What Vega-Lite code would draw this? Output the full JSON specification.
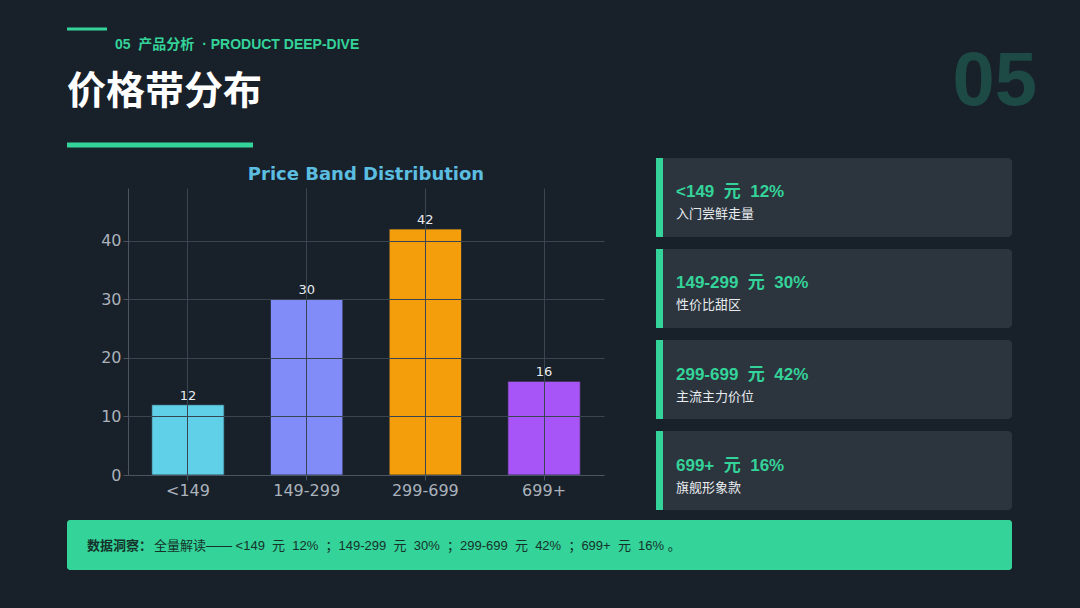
{
  "$schema": "https://vega.github.io/schema/vega-lite/v6.json",
  "background": "#18202a",
  "padding": 0,
  "spacing": 10,
  "config": {
    "view": {"stroke": null},
    "font": "Liberation Sans, Noto Sans CJK SC",
    "concat": {"spacing": 0}
  },
  "vconcat": [
    {
      "width": 952,
      "height": 148,
      "data": {"values": [{}]},
      "layer": [
        {"mark": {"type": "rule", "color": "#34d399", "strokeWidth": 3}, "encoding": {"x": {"value": -61}, "x2": {"value": -21}, "y": {"value": 29}}},
        {"mark": {"type": "rule", "color": "#34d399", "strokeWidth": 5}, "encoding": {"x": {"value": -61}, "x2": {"value": 125}, "y": {"value": 145}}},
        {"mark": {"type": "text", "align": "left", "baseline": "middle", "fontSize": 14, "fontWeight": "bold", "color": "#34d399"}, "encoding": {"x": {"value": -13}, "y": {"value": 45}, "text": {"value": "05\u00a0 产品分析\u00a0 · PRODUCT DEEP-DIVE"}}},
        {"mark": {"type": "text", "align": "left", "baseline": "middle", "fontSize": 39, "fontWeight": "bold", "color": "#ffffff", "font": "Noto Sans CJK SC"}, "encoding": {"x": {"value": -61}, "y": {"value": 92}, "text": {"value": "价格带分布"}}},
        {"mark": {"type": "text", "align": "right", "baseline": "middle", "fontSize": 76, "fontWeight": "bold", "color": "#1d4a44"}, "encoding": {"x": {"value": 909}, "y": {"value": 82}, "text": {"value": "05"}}}
      ]
    },
    {
      "hconcat": [
        {
          "width": 476,
          "height": 287,
          "title": {"text": "Price Band Distribution", "color": "#5bbde0", "fontSize": 18, "font": "DejaVu Sans", "fontWeight": "bold", "offset": 4},
          "data": {"values": [
            {"band": "<149", "value": 12},
            {"band": "149-299", "value": 30},
            {"band": "299-699", "value": 42},
            {"band": "699+", "value": 16}
          ]},
          "encoding": {
            "x": {"field": "band", "type": "nominal", "sort": null, "scale": {"paddingInner": 0.39, "paddingOuter": 0.2},
              "axis": {"title": null, "labelAngle": 0, "labelColor": "#aab2bb", "labelFontSize": 16, "labelFont": "DejaVu Sans", "domainColor": "#4a5562", "tickColor": "#4a5562", "gridColor": "#3a4552", "grid": true, "zindex": 1}},
            "y": {"field": "value", "type": "quantitative", "scale": {"domain": [0, 49]},
              "axis": {"title": null, "values": [0, 10, 20, 30, 40], "labelColor": "#aab2bb", "labelFontSize": 16, "labelFont": "DejaVu Sans", "domainColor": "#4a5562", "tickColor": "#4a5562", "gridColor": "#3a4552", "zindex": 1, "minExtent": 128}}
          },
          "layer": [
            {"mark": {"type": "bar", "stroke": "#222a33", "strokeWidth": 0.8},
              "encoding": {"color": {"field": "band", "type": "nominal", "sort": null, "legend": null,
                "scale": {"range": ["#5fd0e8", "#818cf8", "#f59e0b", "#a855f7"]}}}},
            {"mark": {"type": "text", "dy": -9, "fontSize": 13, "font": "DejaVu Sans", "color": "#e8ecef"},
              "encoding": {"text": {"field": "value", "type": "quantitative"}}}
          ]
        },
        {
          "width": 52, "height": 10, "mark": {"type": "point", "opacity": 0}, "data": {"values": [{}]}, "encoding": {}
        },
        {
          "width": 356,
          "height": 322,
          "data": {"values": [
            {"band": "<149", "head": "<149\u00a0 元\u00a0 12%", "desc": "入门尝鲜走量"},
            {"band": "149-299", "head": "149-299\u00a0 元\u00a0 30%", "desc": "性价比甜区"},
            {"band": "299-699", "head": "299-699\u00a0 元\u00a0 42%", "desc": "主流主力价位"},
            {"band": "699+", "head": "699+\u00a0 元\u00a0 16%", "desc": "旗舰形象款"}
          ]},
          "encoding": {
            "y": {"field": "band", "type": "nominal", "sort": null, "scale": {"range": [0, 352], "paddingInner": 0.132, "paddingOuter": 0}, "axis": null}
          },
          "layer": [
            {"mark": {"type": "bar", "color": "#2c343e", "cornerRadius": 4, "yOffset": -30}, "encoding": {"x": {"value": 0}, "x2": {"value": 356}}},
            {"mark": {"type": "bar", "color": "#34d399", "yOffset": -30}, "encoding": {"x": {"value": 0}, "x2": {"value": 7}}},
            {"mark": {"type": "text", "align": "left", "dy": -5, "yOffset": -30, "fontSize": 17, "fontWeight": "bold", "color": "#34d399"}, "encoding": {"x": {"value": 20}, "text": {"field": "head"}}},
            {"mark": {"type": "text", "align": "left", "dy": 17, "yOffset": -30, "fontSize": 13, "color": "#e8ecef", "font": "Noto Sans CJK SC"}, "encoding": {"x": {"value": 20}, "text": {"field": "desc"}}}
          ]
        }
      ]
    },
    {
      "width": 952,
      "height": 70,
      "data": {"values": [{}]},
      "layer": [
        {"mark": {"type": "rect", "color": "#34d399", "cornerRadius": 3}, "encoding": {"x": {"value": -61}, "x2": {"value": 884}, "y": {"value": -20}, "y2": {"value": 30}}},
        {"mark": {"type": "text", "align": "left", "baseline": "middle", "fontSize": 13, "fontWeight": "bold", "color": "#14322a", "font": "Noto Sans CJK SC"}, "encoding": {"x": {"value": -41}, "y": {"value": 6}, "text": {"value": "数据洞察："}}},
        {"mark": {"type": "text", "align": "left", "baseline": "middle", "fontSize": 13, "color": "#14322a"}, "encoding": {"x": {"value": 26}, "y": {"value": 6}, "text": {"value": "全量解读—— <149\u00a0 元\u00a0 12%\u00a0 ；149-299\u00a0 元\u00a0 30%\u00a0 ；299-699\u00a0 元\u00a0 42%\u00a0 ；699+\u00a0 元\u00a0 16% 。"}}}
      ]
    }
  ]
}
